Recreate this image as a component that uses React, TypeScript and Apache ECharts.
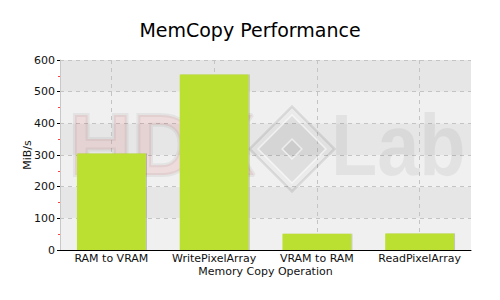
import React, { useEffect, useRef } from "react";
import * as echarts from "echarts";

const categories = ["RAM to VRAM", "WritePixelArray", "VRAM to RAM", "ReadPixelArray"];
const values = [305, 554, 51, 52];
const yTicks = { min: 0, max: 600, interval: 100 };
// helper half-step positions used only to place vertical grid lines at category centres
const halfSteps = ["0", "1", "2", "3", "4", "5", "6", "7", "8"];

export default function App() {
  const ref = useRef<HTMLDivElement>(null);
  useEffect(() => {
    if (!ref.current) return;
    const chart = echarts.init(ref.current, null, { renderer: "svg" });
    const font = "DejaVu Sans, Verdana, sans-serif";
    const gridLine = { color: "#c4c4c4", type: [4, 4], width: 1 };
    chart.setOption({
      animation: false,
      backgroundColor: "#ffffff",
      title: {
        text: "MemCopy Performance",
        left: "center",
        top: 15,
        textStyle: { fontFamily: font, fontSize: 19, fontWeight: "normal", color: "#000" },
      },
      grid: { left: 60, right: 29, top: 60, bottom: 50 },
      graphic: [
        {
          type: "text",
          z: 1,
          x: 69,
          y: 100,
          style: {
            text: "HDX",
            font: "bold 88px 'Liberation Sans', Arial, sans-serif",
            fill: "rgba(215,0,0,0.085)",
            stroke: "rgba(0,0,0,0.05)",
            lineWidth: 4,
          },
        },
        {
          type: "group",
          z: 1,
          x: 292,
          y: 149,
          rotation: Math.PI / 4,
          children: [
            {
              type: "rect",
              z: 1,
              shape: { x: -30, y: -30, width: 60, height: 60 },
              style: { fill: "rgba(0,0,0,0.02)", stroke: "rgba(0,0,0,0.09)", lineWidth: 2.5 },
            },
            {
              type: "rect",
              z: 1,
              shape: { x: -24, y: -24, width: 48, height: 48 },
              style: { fill: "rgba(0,0,0,0.05)", stroke: "rgba(255,255,255,0.6)", lineWidth: 1.5 },
            },
            {
              type: "rect",
              z: 1,
              shape: { x: -7, y: -7, width: 14, height: 14 },
              style: { fill: "rgba(0,0,0,0.04)", stroke: "rgba(255,255,255,0.6)", lineWidth: 1.5 },
            },
          ],
        },
        {
          type: "text",
          z: 1,
          x: 331,
          y: 100,
          scaleX: 0.86,
          style: {
            text: "Lab",
            font: "bold 88px 'Liberation Sans', Arial, sans-serif",
            fill: "rgba(0,0,0,0.055)",
          },
        },
      ],
      xAxis: [
        {
          type: "category",
          data: categories,
          name: "Memory Copy Operation",
          nameLocation: "middle",
          nameGap: 16,
          nameMoveOverlap: false,
          nameTextStyle: { fontFamily: font, fontSize: 11, color: "#111" },
          axisLine: { lineStyle: { color: "#000", width: 1 } },
          axisTick: { show: false },
          axisLabel: { interval: 0, fontFamily: font, fontSize: 11, color: "#111", margin: 3 },
          splitLine: { show: false },
          z: 2,
        },
        {
          type: "category",
          data: halfSteps,
          boundaryGap: false,
          position: "bottom",
          axisLine: { show: false },
          axisTick: { show: false },
          axisLabel: { show: false },
          splitLine: {
            show: true,
            interval: (i: number) => i % 2 === 1,
            lineStyle: gridLine,
          },
        },
      ],
      yAxis: {
        type: "value",
        min: yTicks.min,
        max: yTicks.max,
        interval: yTicks.interval,
        name: "MiB/s",
        nameLocation: "middle",
        nameGap: 27,
        nameMoveOverlap: false,
        nameTextStyle: { fontFamily: font, fontSize: 11, color: "#111" },
        axisLine: { show: true, lineStyle: { color: "#c8c8c8", width: 1 } },
        axisTick: { show: true, length: 3, lineStyle: { color: "#000" } },
        minorTick: { show: true, splitNumber: 2, length: 2, lineStyle: { color: "#ff4040" } },
        axisLabel: { fontFamily: font, fontSize: 11, color: "#111", margin: 5 },
        splitLine: { show: true, lineStyle: gridLine },
        splitArea: { show: true, areaStyle: { color: ["#f0f0f0", "#e6e6e6"] } },
      },
      series: [
        {
          type: "bar",
          data: values,
          xAxisIndex: 0,
          barCategoryGap: "33%",
          z: 3,
          itemStyle: {
            color: "#bce032",
            shadowColor: "rgba(0,0,0,0.25)",
            shadowOffsetX: 1,
            shadowBlur: 0,
          },
        },
      ],
    });
    return () => chart.dispose();
  }, []);
  return <div ref={ref} style={{ width: 500, height: 300, margin: -8 }} />;
}
